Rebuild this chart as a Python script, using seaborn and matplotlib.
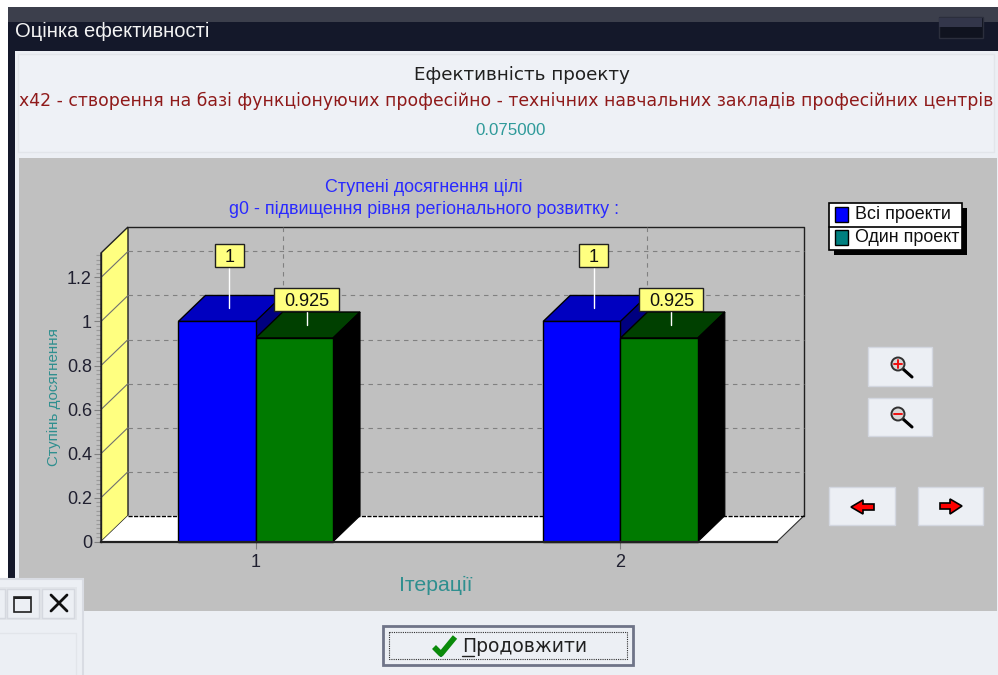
import pandas as pd
import numpy as np
from matplotlib import pyplot as plt
from matplotlib.patches import Rectangle, Polygon, Circle
from matplotlib.ticker import MultipleLocator
from matplotlib.transforms import offset_copy, IdentityTransform
import seaborn as sns

iterations = ['1', '2']
series_names = ['Всі проекти', 'Один проект']
all_projects = [1, 1]
one_project = [0.925, 0.925]
y_ticks = [0, 0.2, 0.4, 0.6, 0.8, 1, 1.2]
y_labels = ['0', '0.2', '0.4', '0.6', '0.8', '1', '1.2']
callout_rise = [41, 14]

window_title = 'Оцінка ефективності'
head_title = 'Ефективність проекту'
head_project = 'x42 - створення на базі функціонуючих професійно - технічних навчальних закладів професійних центрів'
head_value = '0.075000'
chart_title = ['Ступені досягнення цілі', 'g0 - підвищення рівня регіонального розвитку :']
x_title = 'Ітерації'
y_title = 'Ступінь досягнення'
button_text = 'Продовжити'

W, H = 998, 675
DEPTH_X, DEPTH_Y = 27, 26
PANEL = '#eceff4'
GRID = '#808080'
TEAL = '#2f8f8f'

sns.set_theme(style='white')
plt.rcParams['font.family'] = ['Liberation Sans', 'DejaVu Sans']

fig = plt.figure(figsize=(W / 100, H / 100), dpi=100, facecolor='white')

# background axes in pixels, for the dialog around the chart
bg = fig.add_axes([0, 0, 1, 1], zorder=-1)
bg.set_xlim(0, W)
bg.set_ylim(H, 0)
bg.axis('off')


def box(x0, y0, x1, y1, color, edge='none', lw=0, z=1):
    bg.add_patch(Rectangle((x0, y0), x1 - x0, y1 - y0, facecolor=color, edgecolor=edge, linewidth=lw, zorder=z))


box(8, 7, W, H, '#14182a', z=0)
box(8, 7, W, 22, '#3c3f4c', z=1)
box(939, 17, 983, 38, '#10131f', '#2b2e3c', 1, z=2)
box(939, 18, 982, 27, '#33364a', z=3)
box(15, 51, W, H, PANEL, z=1)
box(18, 54, 994, 152, '#eef1f6', '#e2e5ea', 1, z=2)
box(19, 158, 997, 611, '#c0c0c0', z=2)

bg.text(15, 31, window_title, color='#f4f4f4', fontsize=14.5, va='center', ha='left', family=['Liberation Sans'], zorder=5)
bg.text(521.5, 74.5, head_title, color='#202020', fontsize=13.2, va='center', ha='center', family=['DejaVu Sans'], zorder=5)
bg.text(506, 101, head_project, color='#8f1a1a', fontsize=12.4, va='center', ha='center', family=['DejaVu Sans'], zorder=5)
bg.text(511, 130.5, head_value, color='#2f9a9a', fontsize=12.2, va='center', ha='center', zorder=5)
bg.text(424, 187.5, chart_title[0], color='#2a2aff', fontsize=12.85, va='center', ha='center', zorder=5)
bg.text(424, 209.5, chart_title[1], color='#2a2aff', fontsize=12.85, va='center', ha='center', zorder=5)

# legend
box(834, 208, 967, 255, 'black', z=3)
box(829, 203, 962, 250, 'white', 'black', 1.2, z=4)
bg.plot([829, 962], [227, 227], color='black', lw=1.2, zorder=5)
for y, name, swatch in zip([214.5, 237.5], series_names, ['#0000ff', '#008080']):
    box(835, y - 7.5, 848, y + 7.5, swatch, 'black', 1, z=5)
    bg.text(855, y, name, color='#101010', fontsize=12.9, va='center', ha='left', zorder=6)

# zoom and move buttons
for x0, y0, x1, y1 in [(868, 347, 932, 386), (868, 398, 932, 436), (829, 487, 895, 525), (918, 487, 983, 525)]:
    box(x0, y0, x1, y1, PANEL, '#d3d7e0', 1, z=3)
for cy, sign in [(364, '+'), (414, '-')]:
    bg.add_patch(Circle((898, cy), 6.5, facecolor='#d8d8d8', edgecolor='#303030', linewidth=1.4, zorder=5))
    bg.plot([903, 912], [cy + 5, cy + 13], color='black', lw=2.2, zorder=4)
    bg.plot([894, 902], [cy, cy], color='#f01010', lw=1.4, zorder=6)
    if sign == '+':
        bg.plot([898, 898], [cy - 4, cy + 4], color='#f01010', lw=1.4, zorder=6)
for pts in [[(851, 507), (863, 500), (863, 504), (874, 504), (874, 510), (863, 510), (863, 514)],
            [(962, 506), (950, 499), (950, 503), (940, 503), (940, 509), (950, 509), (950, 514)]]:
    bg.add_patch(Polygon(pts, facecolor='#ff0000', edgecolor='black', linewidth=1.2, zorder=5))

# continue button
box(383, 626, 633, 665, PANEL, '#6f7488', 2, z=3)
bg.add_patch(Rectangle((389, 632), 238, 27, fill=False, edgecolor='#303030', linewidth=0.8, linestyle=(0, (1, 1)), zorder=5))
bg.plot([434, 441, 455], [647, 654, 637], color='#0a8a0a', lw=4, zorder=6, solid_capstyle='butt')
bg.plot([434, 441], [649, 656], color='#102a80', lw=1.5, zorder=5)
bg.text(462, 646, button_text, color='#202020', fontsize=13.5, va='center', ha='left', family=['DejaVu Sans'], zorder=6)
bg.plot([462, 474], [656, 656], color='#202020', lw=1, zorder=6)

# second window in the bottom corner
box(-2, 579, 83, H + 2, PANEL, '#d9dce3', 1.5, z=7)
box(-2, 587, 77, 620, '#e2e5ea', z=8)
box(-2, 589, 5, 618, PANEL, '#d5d8df', 1, z=9)
box(7, 589, 39, 618, PANEL, '#d5d8df', 1, z=9)
box(42, 589, 74, 618, PANEL, '#d5d8df', 1, z=9)
box(-2, 633, 76, H + 2, '#eceff4', '#e2e5ea', 1, z=8)
box(14, 597, 31, 612, 'none', '#202020', 1.2, z=10)
box(14, 597, 31, 599, '#202020', z=10)
bg.plot([51, 67], [595, 611], color='#101010', lw=2, zorder=10)
bg.plot([67, 51], [595, 611], color='#101010', lw=2, zorder=10)

# chart, front plane of the 3D box: x 101-777, y 253-541.7
df = pd.DataFrame({
    'iter': iterations * 2,
    'series': [series_names[0]] * 2 + [series_names[1]] * 2,
    'value': all_projects + one_project,
})
ax = fig.add_axes([101 / W, 1 - 541.7 / H, 676 / W, 288.7 / H], facecolor='none')
sns.barplot(data=df, x='iter', y='value', hue='series', palette=['#0000ff', '#007a00'], width=0.424,
            gap=0, dodge=True, edgecolor='black', linewidth=1, saturation=1, legend=False, ax=ax, zorder=5)
ax.set_xlim(-0.424, 1.429)
ax.set_ylim(0, 1.311)

back = offset_copy(ax.transData, fig=fig, x=DEPTH_X, y=DEPTH_Y, units='dots')
x0, x1 = ax.get_xlim()
y0, y1 = ax.get_ylim()

# walls and floor
corners = ax.transData.transform([(x0, y0), (x1, y0), (x0, y1)])
dx = (x1 - x0) / (corners[1][0] - corners[0][0]) * DEPTH_X
dy = (y1 - y0) / (corners[2][1] - corners[0][1]) * DEPTH_Y
ax.add_patch(Polygon([(x0, y0), (x0, y1), (x0 + dx, y1 + dy), (x0 + dx, y0 + dy)], facecolor='#ffff80',
                     edgecolor='#202020', linewidth=1, clip_on=False, zorder=1))
ax.add_patch(Polygon([(x0, y0), (x1, y0), (x1 + dx, y0 + dy), (x0 + dx, y0 + dy)], facecolor='white',
                     edgecolor='none', clip_on=False, zorder=1))
ax.plot([x0 + dx, x1 + dx, x1 + dx], [y1 + dy, y1 + dy, y0 + dy], color='#202020', lw=1, clip_on=False, zorder=1.5)
ax.plot([x1, x1 + dx], [y0, y0 + dy], color='#303030', lw=0.8, clip_on=False, zorder=1.5)
ax.plot([x0 + dx, x1 + dx], [y0 + dy, y0 + dy], color='black', lw=1, linestyle=(0, (3, 1)), clip_on=False, zorder=1.6)

# grid on the back wall
for t in y_ticks[1:]:
    ax.plot([x0, x1], [t, t], transform=back, color=GRID, lw=0.8, linestyle=(0, (4, 4)), clip_on=False, zorder=2)
    ax.plot([x0, x0 + dx], [t, t + dy], color='#707070', lw=0.8, clip_on=False, zorder=2)
for i in range(len(iterations)):
    ax.plot([i, i], [y0, y1], transform=back, color=GRID, lw=0.8, linestyle=(0, (4, 4)), clip_on=False, zorder=2)

# depth faces and callouts of the bars
tops = {'#0000ff': '#0000c0', '#007a00': '#004000'}
sides = {'#0000ff': '#000080', '#007a00': '#000000'}
bars = [p for p in ax.patches if isinstance(p, Rectangle) and p.get_height() > 0 and p.get_width() < 0.5]
bars = sorted(bars, key=lambda b: b.get_x())
renderer = fig.canvas.get_renderer()
for bar in bars:
    bx, bw, bh = bar.get_x(), bar.get_width(), bar.get_height()
    key = '#0000ff' if abs(bh - all_projects[0]) < 1e-9 else '#007a00'
    bar.set_clip_on(False)
    ax.add_patch(Polygon([(bx, bh), (bx + bw, bh), (bx + bw + dx, bh + dy), (bx + dx, bh + dy)],
                         facecolor=tops[key], edgecolor='black', linewidth=1, clip_on=False, zorder=4))
    ax.add_patch(Polygon([(bx + bw, 0), (bx + bw, bh), (bx + bw + dx, bh + dy), (bx + bw + dx, dy)],
                         facecolor=sides[key], edgecolor='black', linewidth=0.8, clip_on=False, zorder=4))

    # callout: white stem, yellow box, value
    rise = callout_rise[0] if key == '#0000ff' else callout_rise[1]
    px, py = ax.transData.transform((bx + bw / 2 + dx * 0.45, bh + dy / 2))
    ident = IdentityTransform()
    ax.plot([px, px], [py, py + rise], transform=ident, color='white', lw=1, clip_on=False, zorder=7)
    label = ax.text(px, py + rise + 11.5, '%g' % bh, transform=ident, ha='center', va='center_baseline', fontsize=13,
                    color='#101010', zorder=9, clip_on=False)
    tw = label.get_window_extent(renderer).width
    ax.add_patch(Rectangle((px - tw / 2 - 9.5, py + rise), tw + 19, 23, transform=ident, facecolor='#ffff80',
                           edgecolor='#202020', linewidth=1, clip_on=False, zorder=8))

# axes
sns.despine(ax=ax, top=True, right=True)
ax.spines['left'].set_color('#202020')
ax.spines['left'].set_linewidth(1)
ax.spines['bottom'].set_color('#202020')
ax.spines['bottom'].set_linewidth(1.6)
ax.spines['bottom'].set_zorder(6)
ax.set_yticks(y_ticks)
ax.set_yticklabels(y_labels)
ax.yaxis.set_minor_locator(MultipleLocator(0.02))
ax.set_xticks(range(len(iterations)))
ax.set_xticklabels(iterations)
ax.tick_params(axis='y', which='major', left=True, length=5, width=0.8, color='#808080', pad=1.5, labelsize=13, labelcolor='#202030')
ax.tick_params(axis='y', which='minor', left=True, length=3.6, width=0.8, color='#9a9a9a')
ax.tick_params(axis='x', which='major', bottom=True, length=5, width=0.8, color='#808080', pad=4, labelsize=13, labelcolor='#202030')
ax.set_xlabel('')
ax.set_ylabel('')
bg.text(436, 585, x_title, color=TEAL, fontsize=15.3, va='center', ha='center', zorder=5)
bg.text(54, 397, y_title, color=TEAL, fontsize=10.9, va='center', ha='center', rotation=90, zorder=5)

fig.savefig('out.png', dpi=100)
